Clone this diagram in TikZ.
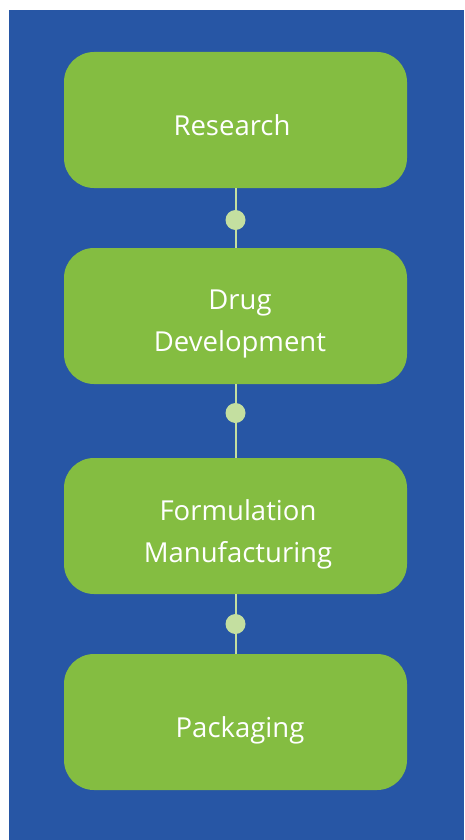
\documentclass[tikz,border=0pt]{standalone}
\usepackage{fontspec}
\setmainfont{Open Sans}
\usepackage{tikz}
\usetikzlibrary{positioning}
\definecolor{bgblue}{HTML}{2756A5}
\definecolor{boxgreen}{HTML}{84BD41}
\definecolor{dotgreen}{HTML}{C4DFA0}
\tikzset{stage/.style={fill=boxgreen,rounded corners=30pt,minimum width=343pt,
    minimum height=136pt},
  caption/.style={text=white,align=center,font=\fontsize{27.5}{42}\selectfont},
  dot/.style={circle,fill=dotgreen,minimum size=20pt,inner sep=0pt},
  link/.style={dotgreen,line width=2pt}}

\begin{document}
\begin{tikzpicture}[x=1pt,y=-1pt]
  \useasboundingbox (0,0) rectangle (464,840);
  \fill[bgblue] (9,10) rectangle (464,840);
  \node[stage] (research) at (235.5,120) {};
  \node[stage] (drugdev) at (235.5,316) {};
  \node[stage] (formulation) at (235.5,526) {};
  \node[stage] (packaging) at (235.5,722) {};
  % labels, a little below the middle of each box
  \node[caption] (research-text) at (232,125) {Research};
  \node[caption] (drugdev-text) at (240,324) {Drug\\Development};
  \node[caption] (formulation-text) at (238,534) {Formulation\\Manufacturing};
  \node[caption] (packaging-text) at (240,730) {Packaging};
  \foreach \a/\b/\y in {research/drugdev/220,drugdev/formulation/413,formulation/packaging/624}{
    \draw[link] (\a.south) -- (\b.north);
    \node[dot] (dot-\a) at (235.5,\y) {};
  }
\end{tikzpicture}
\end{document}
